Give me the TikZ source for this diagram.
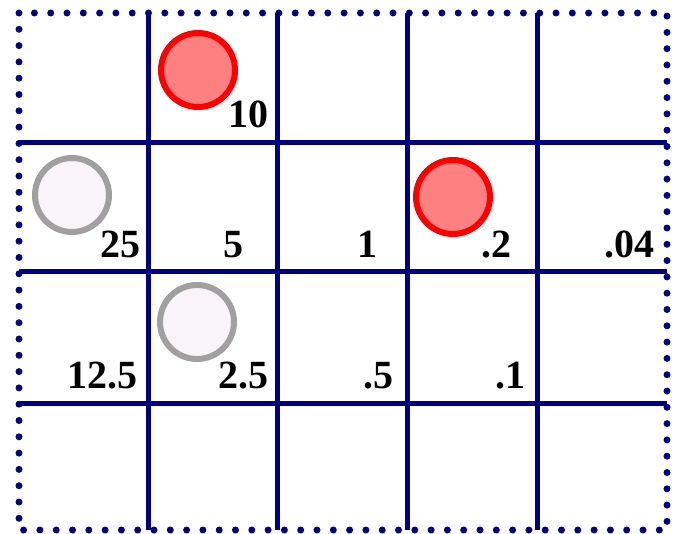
\documentclass[tikz,border=0pt]{standalone}
\usepackage{fontspec}
\setmainfont{Liberation Serif}
\definecolor{gridnavy}{RGB}{0,0,128}
\definecolor{redfill}{RGB}{255,128,128}
\definecolor{greyline}{RGB}{160,160,160}
\definecolor{greyfill}{RGB}{248,244,248}
\tikzset{
  gridline/.style={draw=gridnavy, line width=5pt},
  borderline/.style={draw=gridnavy, line width=7pt, line cap=round, dash pattern=on 0pt off 16.3pt},
  redball/.style={circle, draw=red, fill=redfill, line width=6pt, minimum size=74pt, inner sep=0pt},
  greyball/.style={circle, draw=greyline, fill=greyfill, line width=6pt, minimum size=74pt, inner sep=0pt},
  val/.style={anchor=base east, inner sep=0pt, font=\fontsize{40}{42}\selectfont\bfseries}
}
\begin{document}
\begin{tikzpicture}[x=1pt,y=-1pt]
\useasboundingbox (0,0) rectangle (679,534);
\fill[white] (0,0) rectangle (679,534);
% inner grid lines
\coordinate (v1t) at (148,13); \coordinate (v1b) at (148,530);
\coordinate (v2t) at (277,13); \coordinate (v2b) at (277,530);
\coordinate (v3t) at (407,13); \coordinate (v3b) at (407,530);
\coordinate (v4t) at (537,13); \coordinate (v4b) at (537,530);
\coordinate (h1l) at (19,143); \coordinate (h1r) at (667,143);
\coordinate (h2l) at (19,272); \coordinate (h2r) at (667,272);
\coordinate (h3l) at (19,403); \coordinate (h3r) at (667,403);
\draw[gridline] (v1t) -- (v1b);
\draw[gridline] (v2t) -- (v2b);
\draw[gridline] (v3t) -- (v3b);
\draw[gridline] (v4t) -- (v4b);
\draw[gridline] (h1l) -- (h1r);
\draw[gridline] (h2l) -- (h2r);
\draw[gridline] (h3l) -- (h3r);
% dotted border
\coordinate (tl) at (19,13); \coordinate (br) at (667,530);
\draw[borderline] (tl) rectangle (br);
% circles
\node[redball] (c1) at (198,70) {};
\node[greyball] (c2) at (72,195) {};
\node[redball] (c3) at (453,197) {};
\node[greyball] (c4) at (197,322) {};
% values
\node[val] (l10) at (269,128) {10};
\node[val] (l25) at (141,258) {25};
\node[val] (l5) at (244,258) {5};
\node[val] (l1) at (378,258) {1};
\node[val] (l02) at (512,258) {.2};
\node[val] (l004) at (655,258) {.04};
\node[val] (l125) at (138,388) {12.5};
\node[val] (l25b) at (269,388) {2.5};
\node[val] (l05) at (394,388) {.5};
\node[val] (l01) at (526,388) {.1};
\end{tikzpicture}
\end{document}
